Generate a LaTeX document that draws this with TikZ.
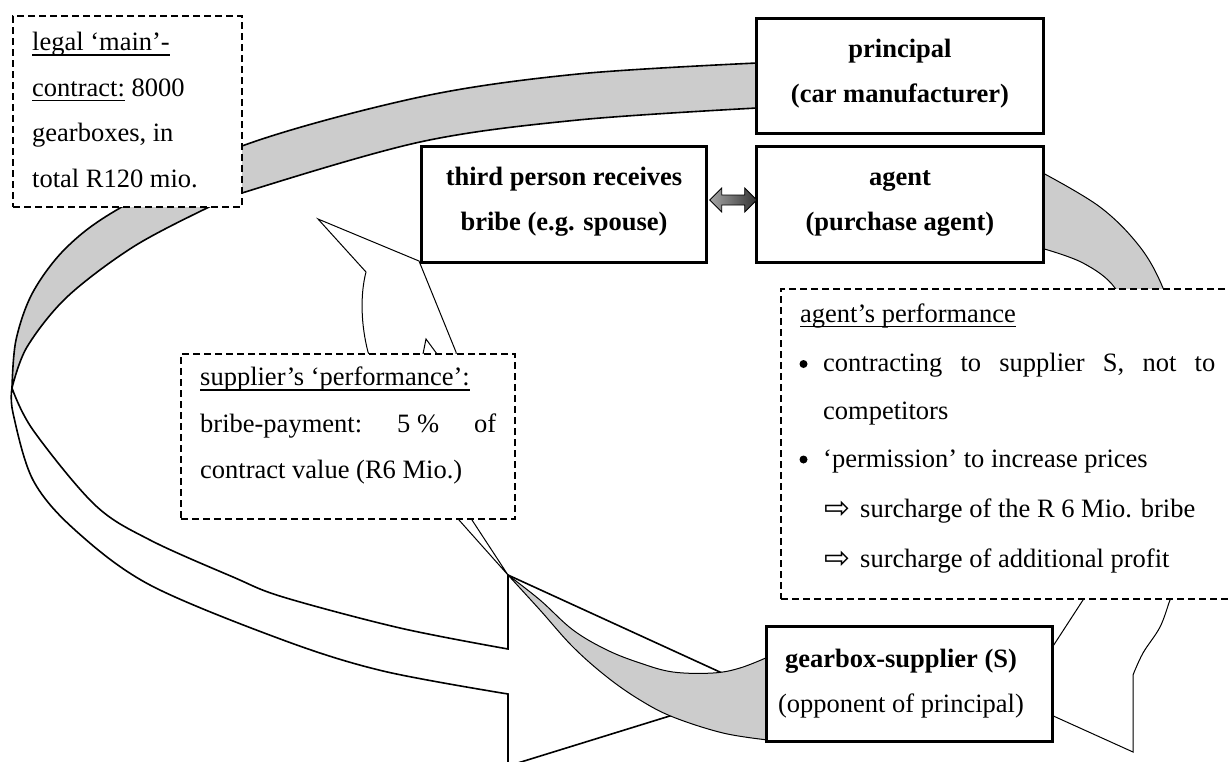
\documentclass[tikz,border=0pt]{standalone}
\usepackage{fontspec}
\setmainfont{Liberation Serif}
\newfontfamily\symfont{DejaVu Sans}
\newcommand\ulx[1]{\setbox0\hbox{#1}\rlap{\rule[-5.2pt]{\wd0}{1.4pt}}\box0\relax}
\tikzset{
  solidbox/.style={draw, line width=3.2pt, fill=white, inner sep=0pt},
  dashbox/.style={draw, line width=1.8pt, dash pattern=on 7pt off 4pt, fill=white, inner sep=0pt},
  biggrey/.style={fill=black!20, draw, line width=1.6pt, line join=round},
  bigwhite/.style={fill=white, draw, line width=1.6pt, line join=miter},
  thingrey/.style={fill=black!20, draw, line width=1pt, line join=round},
  thinwhite/.style={fill=white, draw, line width=1pt, line join=miter},
  thinline/.style={draw, line width=1pt},
  btxt/.style={inner sep=0pt, anchor=base, font=\bfseries},
  ctxt/.style={inner sep=0pt, anchor=base},
  ltxt/.style={inner sep=0pt, anchor=base west},
  bulletdot/.style={circle, fill=black, inner sep=0pt, minimum size=8pt},
  dblarrow/.style={draw, line width=0.8pt, left color=black!35, right color=black!80}
}
\begin{document}
\fontsize{26.5}{45}\selectfont
\begin{tikzpicture}[x=1pt,y=-1pt]
\useasboundingbox (0,0) rectangle (1229,761);
\clip (0,0) rectangle (1229,761);

% ---- big curved arrow (principal -> supplier) ----
\filldraw[biggrey] plot[smooth, tension=0.55] coordinates {(757,63) (578,74) (420,97) (242,146) (120,208) (67,247) (33,292) (16,340) (12,388)}
  -- plot[smooth, tension=0.55] coordinates {(12,388) (27,347) (67,297) (133,247) (207,208) (242,193) (420,142) (578,120) (757,108)} -- cycle;
\filldraw[bigwhite] plot[smooth, tension=0.55] coordinates {(12,388) (33,430) (95,505) (150,540) (233,577) (283,597) (400,628) (508,649)}
  -- (508,575) -- (757,689) -- (508,766) -- (508,694)
  -- plot[smooth, tension=0.55] coordinates {(508,694) (383,671) (283,640) (150,585) (75,530) (33,480) (13,413) (12,388)} -- cycle;

% ---- middle curved arrow (supplier -> third person) ----
\filldraw[thinwhite] (508,575) -- (459,520) -- (368,352) .. controls (361,325) and (360,295) .. (366,272)
  -- (318,219) -- (419,261) -- (456,352) -- (472,520) -- cycle;
\draw[thinline] (423,354) -- (426,339) -- (437,354);
\filldraw[thingrey] plot[smooth, tension=0.6] coordinates {(508,575) (540,600) (573,630) (607,650) (640,663) (673,672) (713,673) (740,668) (768,657)}
  -- (768,740)
  -- plot[smooth, tension=0.6] coordinates {(768,740) (723,733) (673,717) (640,700) (607,677) (573,647) (540,610) (508,575)} -- cycle;

% ---- right curved arrow (agent -> supplier) ----
\filldraw[thingrey] plot[smooth, tension=0.6] coordinates {(1041,172) (1100,207) (1140,247) (1163,288) (1175,330)}
  -- plot[smooth, tension=0.6] coordinates {(1132,330) (1115,288) (1083,263) (1041,248)} -- cycle;
\filldraw[thinwhite] (1095,582) -- (1083,600) -- (1018,700) -- (1133,752) -- (1133,675)
  -- plot[smooth, tension=0.6] coordinates {(1133,675) (1143,653) (1160,627) (1170,600) (1176,585)} -- cycle;

% ---- solid boxes ----
\node[solidbox, minimum width=287pt, minimum height=115pt] (principal) at (900,76) {};
\node[solidbox, minimum width=287pt, minimum height=116pt] (agent) at (900,204.5) {};
\node[solidbox, minimum width=285pt, minimum height=116pt] (third) at (564,204.5) {};
\node[solidbox, minimum width=286pt, minimum height=115pt] (supplier) at (909.5,684) {};

\node[btxt] (tp1) at (900,57) {principal};
\node[btxt] (tp2) at (900,102) {(car manufacturer)};
\node[btxt] (ta1) at (900,185) {agent};
\node[btxt] (ta2) at (900,230) {(purchase agent)};
\node[btxt] (tt1) at (564,185) {third person receives};
\node[btxt] (tt2) at (564,230) {bribe (e.g. spouse)};
\node[btxt] (ts1) at (901,667) {gearbox-supplier (S)};
\node[ctxt] (ts2) at (901,712) {(opponent of principal)};

% ---- dashed boxes ----
\node[dashbox, minimum width=229pt, minimum height=191pt] (legal) at (127.5,111.5) {};
\node[ltxt] (l1) at (32,50.5) {\ulx{legal ‘main’-}};
\node[ltxt] (l2) at (32,96) {\ulx{contract:} 8000};
\node[ltxt] (l3) at (32,141.5) {gearboxes, in};
\node[ltxt] (l4) at (32,187) {total R120 mio.};

\node[dashbox, minimum width=334pt, minimum height=165pt] (sperf) at (348,436.5) {};
\node[ltxt] (s1) at (200,385.5) {\ulx{supplier’s ‘performance’:}};
\node[ltxt] (s2) at (200,432) {\hbox to 296pt{bribe-payment:\hfill 5 \%\hfill of}};
\node[ltxt] (s3) at (200,478) {contract value (R6 Mio.)};

\node[dashbox, minimum width=463pt, minimum height=310pt] (aperf) at (1012.5,444) {};
\node[ltxt] (a1) at (800,322) {\ulx{agent’s performance}};
\node[bulletdot] (b1) at (803.5,364) {};
\node[ltxt] (a2) at (823,371) {\hbox to 392pt{contracting\hfill to\hfill supplier\hfill S,\hfill not\hfill to}};
\node[ltxt] (a3) at (823,419) {competitors};
\node[bulletdot] (b2) at (803.5,459.5) {};
\node[ltxt] (a4) at (823,467) {‘permission’ to increase prices};
\node[ltxt] (r1) at (824,518) {\fontsize{31}{31}\symfont ⇨};
\node[ltxt] (a5) at (860,517) {surcharge of the R 6 Mio. bribe};
\node[ltxt] (r2) at (824,568) {\fontsize{31}{31}\symfont ⇨};
\node[ltxt] (a6) at (860,567) {surcharge of additional profit};

% ---- double arrow between third person and agent ----
\path (third.east) ++(1.6,-4.5) coordinate (da1);
\draw[dblarrow] (da1) -- ++(12,-12) -- ++(0,7) -- ++(23,0) -- ++(0,-7) -- ++(12,12)
  -- ++(-12,12) -- ++(0,-7) -- ++(-23,0) -- ++(0,7) -- cycle;
\end{tikzpicture}
\end{document}
